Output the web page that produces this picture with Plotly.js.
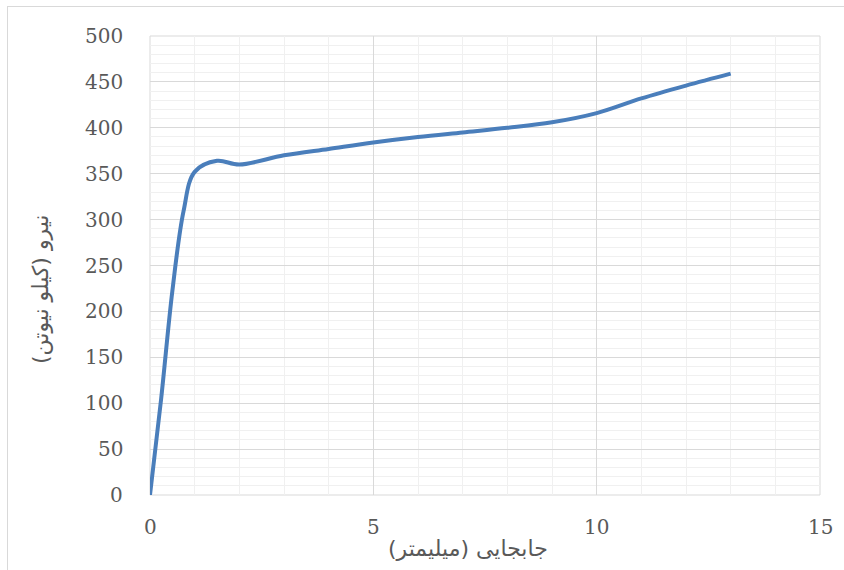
<!DOCTYPE html>
<html>
<head>
<meta charset="utf-8">
<script src="https://cdn.plot.ly/plotly-3.0.1.min.js"></script>
<style>
html,body{margin:0;padding:0;background:#fff;overflow:hidden;}
#wrap{position:relative;width:844px;height:570px;}
#frame{position:absolute;left:7px;top:6px;width:900px;height:700px;border:1px solid #d9d9d9;pointer-events:none;}
#chart{position:absolute;left:0;top:0;width:844px;height:570px;}
</style>
</head>
<body>
<div id="wrap"><div id="frame"></div><div id="chart"></div></div>
<script>
// displacement (mm)
var displacement = [0, 0.25, 0.5, 0.75, 1, 1.5, 2, 3, 4, 5, 6, 7, 8, 9, 10, 11, 12, 13];
// force (kN)
var force = [0, 105, 222, 309, 352, 364, 360, 370, 377, 384, 390, 395, 400, 406, 416, 432, 446, 459];
// tick labels
var xTicks = [0, 5, 10, 15];
var yTicks = [0, 50, 100, 150, 200, 250, 300, 350, 400, 450, 500];
var xTitle = 'جابجایی (میلیمتر)';
var yTitle = 'نیرو (کیلو نیوتن)';

function tickFont() { return {family: 'DejaVu Serif', size: 20, color: '#595959'}; }
var titleFont = {family: 'DejaVu Sans', size: 22, color: '#595959'};

var trace = {
  x: displacement,
  y: force,
  type: 'scatter',
  mode: 'lines',
  line: {color: '#4a7ebb', width: 4, shape: 'spline', smoothing: 1},
  hoverinfo: 'x+y'
};

var tickAnn = xTicks.map(function (v) {
  return {text: String(v), xref: 'x', yref: 'paper', x: v, y: -(527 - 495) / 459,
          xanchor: 'center', yanchor: 'middle', showarrow: false, font: tickFont()};
}).concat(yTicks.map(function (v) {
  return {text: String(v), xref: 'paper', yref: 'y', x: -25 / 670, y: v,
          xanchor: 'right', yanchor: 'middle', showarrow: false, font: tickFont()};
}));

var layout = {
  width: 844, height: 570,
  margin: {l: 150, r: 24, t: 36, b: 75},
  paper_bgcolor: 'rgba(0,0,0,0)',
  plot_bgcolor: '#ffffff',
  showlegend: false,
  xaxis: {
    range: [0, 15], tickvals: xTicks,
    showgrid: true, gridcolor: '#d9d9d9', gridwidth: 1,
    minor: {dtick: 1, showgrid: true, gridcolor: '#f0f0f0', gridwidth: 1},
    zeroline: false, showline: false, ticks: '', showticklabels: false
  },
  yaxis: {
    range: [0, 500], tickvals: yTicks,
    showgrid: true, gridcolor: '#d9d9d9', gridwidth: 1,
    minor: {dtick: 10, showgrid: true, gridcolor: '#f0f0f0', gridwidth: 1},
    zeroline: false, showline: false, ticks: '', showticklabels: false
  },
  shapes: [
    {type: 'rect', xref: 'paper', yref: 'paper', x0: 0, x1: 1, y0: 0, y1: 1,
     line: {color: '#d9d9d9', width: 1}, fillcolor: 'rgba(0,0,0,0)', layer: 'below'}
  ],
  annotations: [
    {text: xTitle, xref: 'paper', yref: 'paper', x: (468 - 150) / 670, y: -(548 - 495) / 459,
     xanchor: 'center', yanchor: 'middle', showarrow: false, font: titleFont},
    {text: yTitle, xref: 'paper', yref: 'paper', x: -(150 - 40) / 670, y: (495 - 290) / 459,
     xanchor: 'center', yanchor: 'middle', textangle: -90, showarrow: false, font: titleFont}
  ].concat(tickAnn)
};

Plotly.newPlot('chart', [trace], layout, {displayModeBar: false, staticPlot: true});
</script>
</body>
</html>
